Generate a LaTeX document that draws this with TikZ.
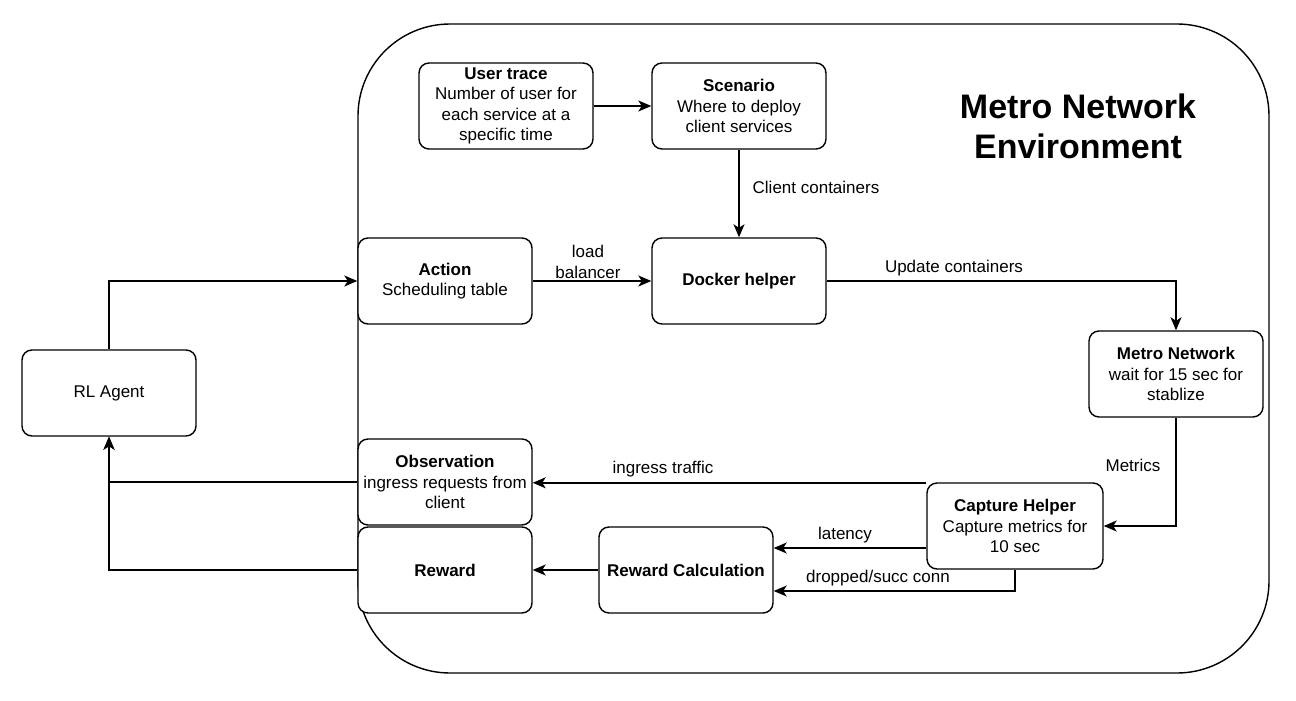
\documentclass[tikz,border=0pt]{standalone}
\usepackage{fontspec}
\setmainfont{Liberation Sans}
\usetikzlibrary{arrows.meta,calc}
\begin{document}
\begin{tikzpicture}[x=1pt,y=-1pt,
  box/.style={draw, fill=white, line width=1.4pt, rounded corners=10pt, minimum width=174pt, minimum height=86pt, align=center, font=\fontsize{17}{20.5}\selectfont, inner sep=2pt},
  lbl/.style={font=\fontsize{17}{20.5}\selectfont, align=center, inner sep=1pt},
  conn/.style={line width=1.4pt, -{Stealth[length=13pt,width=11pt,inset=3.5pt]}},
]
\useasboundingbox (0,0) rectangle (1296,701);
\draw[line width=1.4pt, rounded corners=92pt] (358,24) rectangle (1269,673);
\node[lbl, font=\fontsize{34}{40}\selectfont\bfseries] (title) at (1078,126) {Metro Network\\Environment};

\node[box] (ut) at (506,106) {\textbf{User trace}\\Number of user for\\each service at a\\specific time};
\node[box] (sc) at (739,106) {\textbf{Scenario}\\Where to deploy\\client services};
\node[box] (act) at (445,281) {\textbf{Action}\\Scheduling table};
\node[box] (dh) at (739,281) {\textbf{Docker helper}};
\node[box] (rl) at (109,393) {RL Agent};
\node[box] (mn) at (1176,374) {\textbf{Metro Network}\\wait for 15 sec for\\stablize};
\node[box] (obs) at (445,482) {\textbf{Observation}\\ingress requests from\\client};
\node[box] (rew) at (445,570) {\textbf{Reward}};
\node[box] (rc) at (686,570) {\textbf{Reward Calculation}};
\node[box, minimum width=176pt] (cap) at (1015,526) {\textbf{Capture Helper}\\Capture metrics for\\10 sec};

\coordinate (latS) at ($(cap.west)+(0,22)$);
\coordinate (latE) at ($(rc.east)+(0,-22)$);
\coordinate (dropE) at ($(rc.east)+(0,21)$);
\coordinate (ingS) at ($(cap.north west)+(0,0.5)$);

\draw[conn] (ut) -- (sc);
\draw[conn] (sc) -- (dh);
\draw[conn] (rl.north) |- (act.west);
\draw[conn] (act) -- (dh);
\draw[conn] (dh.east) -| (mn.north);
\draw[conn] (mn.south) |- (cap.east);
\draw[conn] (ingS) -- (ingS -| obs.east);
\draw[conn] (latS) -- (latS -| latE);
\draw[conn] (cap.south) |- (dropE);
\draw[conn] (rc) -- (rew);
\draw[conn] (rew.west) -| (rl.south);
\draw[conn] (obs.west) -| (rl.south);

\node[lbl] (l1) at (816,187) {Client containers};
\node[lbl] (l2) at (588,262) {load\\balancer};
\node[lbl] (l3) at (954,268) {Update containers};
\node[lbl] (l4) at (1133,465) {Metrics};
\node[lbl] (l5) at (663,469) {ingress traffic};
\node[lbl] (l6) at (845,535) {latency};
\node[lbl] (l7) at (878,578) {dropped/succ conn};
\end{tikzpicture}
\end{document}
